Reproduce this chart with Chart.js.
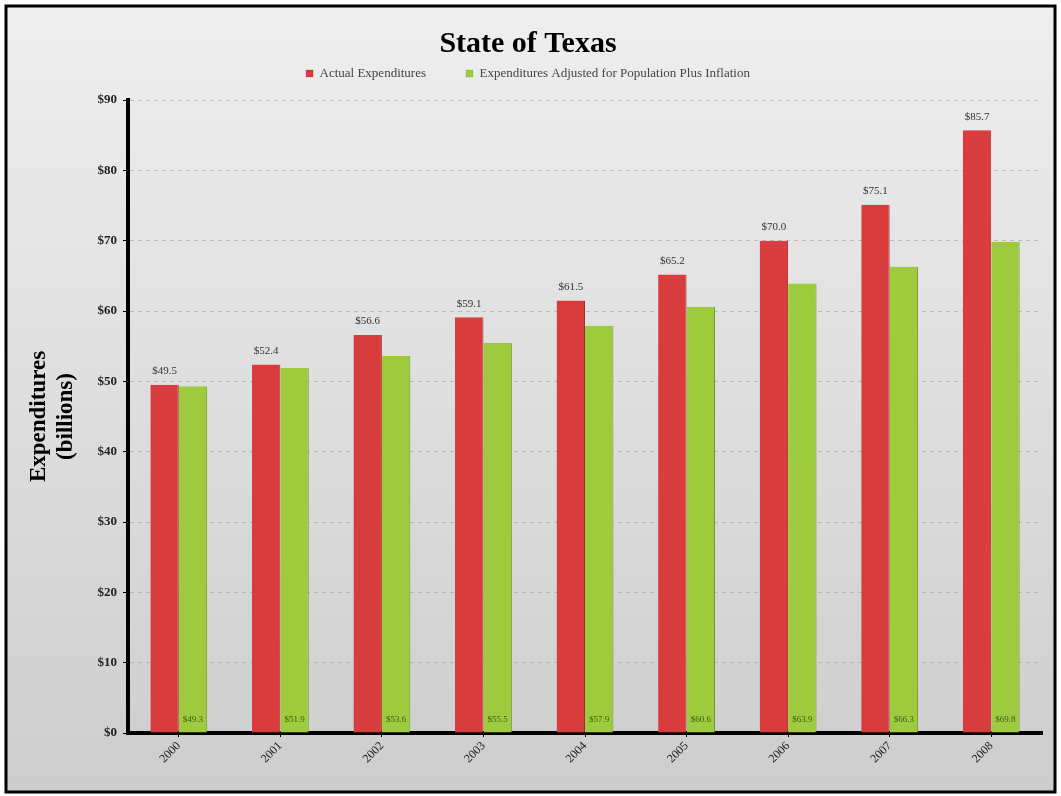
<!DOCTYPE html>
<html>
<head>
<meta charset="utf-8">
<script src="https://cdn.jsdelivr.net/npm/chart.js@4.4.1/dist/chart.umd.min.js"></script>
<style>
  html, body { margin: 0; padding: 0; background: #fff; }
  #wrap { width: 1061px; height: 796px; }
</style>
</head>
<body>
<div id="wrap"><canvas id="chart" width="1061" height="796"></canvas></div>
<script>
// datos
const years = ["2000", "2001", "2002", "2003", "2004", "2005", "2006", "2007", "2008"];
const actualExp = [49.5, 52.4, 56.6, 59.1, 61.5, 65.2, 70.0, 75.1, 85.7];
const adjustedExp = [49.3, 51.9, 53.6, 55.5, 57.9, 60.6, 63.9, 66.3, 69.8];
const yTicks = [0, 10, 20, 30, 40, 50, 60, 70, 80, 90];

const serif = "'Times New Roman', 'Liberation Serif', serif";

// fondo degradado y marco negro
const frame = {
  id: "frame",
  beforeDraw(chart) {
    const ctx = chart.ctx;
    const g = ctx.createLinearGradient(0, 0, 0, chart.height);
    g.addColorStop(0, "#efefef");
    g.addColorStop(1, "#cdcdcd");
    ctx.save();
    ctx.fillStyle = "#fff";
    ctx.fillRect(0, 0, chart.width, chart.height);
    ctx.fillStyle = g;
    ctx.fillRect(6, 6, chart.width - 12, chart.height - 10);
    ctx.strokeStyle = "#000";
    ctx.lineWidth = 3;
    ctx.strokeRect(6, 6, chart.width - 12, chart.height - 10);
    ctx.restore();
  },
};

// espacio extra entre la leyenda y el area del grafico
const spacer = {
  id: "spacer",
  beforeInit(chart) {
    Chart.layouts.addBox(chart, {
      position: "top",
      weight: 0,
      fullSize: true,
      options: {},
      isHorizontal: () => true,
      update(w) {
        this.width = w;
        this.height = 10;
      },
      draw() {},
    });
  },
};

// etiquetas de valores
const valueLabels = {
  id: "valueLabels",
  afterDatasetsDraw(chart) {
    const ctx = chart.ctx;
    ctx.save();
    ctx.textAlign = "center";
    chart.getDatasetMeta(0).data.forEach((bar, i) => {
      ctx.font = "11px " + serif;
      ctx.fillStyle = "#333";
      ctx.textBaseline = "bottom";
      ctx.fillText("$" + actualExp[i].toFixed(1), bar.x, bar.y - 8);
    });
    const bottom = chart.scales.y.getPixelForValue(0);
    chart.getDatasetMeta(1).data.forEach((bar, i) => {
      ctx.font = "9px " + serif;
      ctx.fillStyle = "#3b5a12";
      ctx.textBaseline = "middle";
      ctx.fillText("$" + adjustedExp[i].toFixed(1), bar.x, bottom - 13);
    });
    ctx.restore();
  },
};

new Chart(document.getElementById("chart"), {
  type: "bar",
  data: {
    labels: years,
    datasets: [
      {
        label: "Actual Expenditures",
        data: actualExp,
        backgroundColor: "#d83c3c",
        borderColor: "#a82a2a",
        borderWidth: { right: 1 },
        categoryPercentage: 0.56,
        barPercentage: 1,
      },
      {
        label: "Expenditures Adjusted for Population Plus Inflation",
        data: adjustedExp,
        backgroundColor: "#9ecb3e",
        borderColor: "#6f9a24",
        borderWidth: { right: 1 },
        categoryPercentage: 0.56,
        barPercentage: 1,
      },
    ],
  },
  options: {
    responsive: false,
    animation: false,
    layout: { padding: { left: 14, right: 19, top: 14, bottom: 8 } },
    plugins: {
      title: {
        display: true,
        text: "State of Texas",
        color: "#000",
        font: { family: serif, size: 30, weight: "bold" },
        padding: { top: 12, bottom: -35 },
      },
      legend: {
        labels: {
          color: "#444",
          font: { family: serif, size: 13 },
          boxWidth: 7,
          boxHeight: 7,
          padding: 40,
        },
      },
      tooltip: { enabled: false },
    },
    scales: {
      y: {
        min: 0,
        max: 90,
        afterBuildTicks(scale) {
          scale.ticks = yTicks.map((v) => ({ value: v }));
        },
        afterFit(scale) {
          scale.width = 114;
        },
        ticks: {
          color: "#222",
          font: { family: serif, size: 13, weight: "bold" },
          padding: 6,
          callback: (v) => "$" + v,
        },
        grid: {
          color: "rgba(160,160,160,0.6)",
          tickColor: "#000",
          tickLength: 5,
        },
        border: { color: "#000", width: 4, dash: [4, 4] },
        title: {
          display: true,
          text: ["Expenditures", "(billions)"],
          color: "#000",
          font: { family: serif, size: 23, weight: "bold" },
          padding: { top: 11, bottom: 6 },
        },
      },
      x: {
        afterFit(scale) {
          scale.height = 55;
        },
        ticks: {
          color: "#222",
          font: { family: serif, size: 12 },
          maxRotation: 45,
          minRotation: 45,
          padding: 2,
        },
        grid: {
          offset: false,
          drawOnChartArea: false,
          color: "#000",
          tickLength: 4,
        },
        border: { color: "#000", width: 4 },
      },
    },
  },
  plugins: [frame, spacer, valueLabels],
});
</script>
</body>
</html>
